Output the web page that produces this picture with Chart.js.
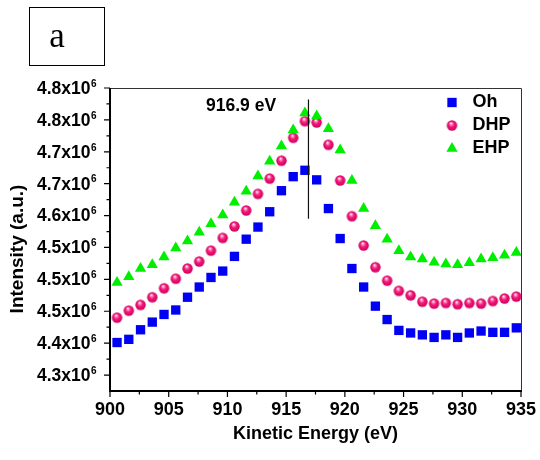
<!DOCTYPE html>
<html>
<head>
<meta charset="utf-8">
<script src="https://cdn.jsdelivr.net/npm/chart.js@4"></script>
<style>
  html, body { margin: 0; padding: 0; background: #fff; }
</style>
</head>
<body>
<canvas id="chart" width="540" height="460"></canvas>
<script>
// kinetic energy of each sample (eV)
const energy = [900.6, 901.6, 902.6, 903.6, 904.6, 905.6, 906.6, 907.6, 908.6, 909.6,
  910.6, 911.6, 912.6, 913.6, 914.6, 915.6, 916.6, 917.6, 918.6, 919.6,
  920.6, 921.6, 922.6, 923.6, 924.6, 925.6, 926.6, 927.6, 928.6, 929.6,
  930.6, 931.6, 932.6, 933.6, 934.6];

// intensities in units of 10^6
const oh = [4.351, 4.356, 4.371, 4.383, 4.395, 4.402, 4.422, 4.438, 4.453, 4.463,
  4.486, 4.513, 4.532, 4.556, 4.589, 4.611, 4.621, 4.606, 4.561, 4.514,
  4.467, 4.438, 4.408, 4.387, 4.370, 4.366, 4.363, 4.359, 4.363, 4.359,
  4.366, 4.369, 4.367, 4.367, 4.374];
const dhp = [4.390, 4.401, 4.410, 4.422, 4.436, 4.451, 4.467, 4.478, 4.495, 4.515,
  4.533, 4.558, 4.584, 4.608, 4.636, 4.672, 4.698, 4.696, 4.661, 4.605,
  4.549, 4.503, 4.469, 4.448, 4.432, 4.425, 4.415, 4.412, 4.413, 4.411,
  4.413, 4.412, 4.416, 4.420, 4.423];
const ehp = [4.445, 4.454, 4.467, 4.473, 4.485, 4.499, 4.510, 4.524, 4.537, 4.551,
  4.571, 4.588, 4.612, 4.635, 4.659, 4.684, 4.711, 4.706, 4.686, 4.653,
  4.605, 4.561, 4.534, 4.513, 4.495, 4.485, 4.482, 4.477, 4.474, 4.473,
  4.476, 4.482, 4.484, 4.488, 4.492];

// peak marker
const peakEnergy = 916.9;
const peakLineRange = [4.545, 4.732];
const peakLabel = '916.9 eV';

const xTicks = [900, 905, 910, 915, 920, 925, 930, 935];
const yTicks = [4.30, 4.35, 4.40, 4.45, 4.50, 4.55, 4.60, 4.65, 4.70, 4.75];
const yTickLabels = ['4.3', '4.4', '4.5', '4.5', '4.5', '4.6', '4.7', '4.7', '4.8', '4.8'];

const FONT = '"Liberation Sans", Arial, Helvetica, sans-serif';

function pts(ys) {
  return energy.map((x, i) => ({ x: x, y: ys[i] }));
}

// shaded pink ball used for the DHP markers
function makeSphere(r) {
  const c = document.createElement('canvas');
  const s = Math.ceil(r * 2 + 2);
  c.width = c.height = s;
  const g = c.getContext('2d');
  const cx = s / 2, cy = s / 2;
  const grad = g.createRadialGradient(cx - r * 0.2, cy - r * 0.45, r * 0.05, cx, cy, r);
  grad.addColorStop(0, '#ffffff');
  grad.addColorStop(0.22, '#ff7fb4');
  grad.addColorStop(0.5, '#f2187a');
  grad.addColorStop(1, '#d0005c');
  g.fillStyle = grad;
  g.beginPath();
  g.arc(cx, cy, r, 0, Math.PI * 2);
  g.fill();
  return c;
}
const sphere = makeSphere(5.2);

const series = [
  { label: 'Oh', data: oh, style: 'rect', radius: 6.6, color: '#0000f5' },
  { label: 'DHP', data: dhp, style: sphere, radius: 5.2, color: '#f2187a' },
  { label: 'EHP', data: ehp, style: 'triangle', radius: 6.5, color: '#00ee00' }
];

// frame, ticks, tick labels, legend and the text bits
const decor = {
  id: 'decor',
  afterDatasetsDraw(chart) {
    const ctx = chart.ctx;
    const xs = chart.scales.x, ys = chart.scales.y;
    const { left, right, top, bottom } = chart.chartArea;

    ctx.save();

    // box
    ctx.lineWidth = 1;
    ctx.strokeStyle = '#333';
    ctx.beginPath();
    ctx.moveTo(left, top + 0.5);
    ctx.lineTo(right + 0.5, top + 0.5);
    ctx.lineTo(right + 0.5, bottom);
    ctx.stroke();

    ctx.strokeStyle = '#000';
    ctx.lineWidth = 2;
    ctx.beginPath();
    ctx.moveTo(left, top);
    ctx.lineTo(left, bottom);
    ctx.lineTo(right + 1, bottom);
    ctx.stroke();

    // y ticks
    ctx.lineWidth = 1.2;
    ctx.beginPath();
    yTicks.forEach((v, i) => {
      const py = ys.getPixelForValue(v);
      ctx.moveTo(left - 6, py);
      ctx.lineTo(left, py);
      if (i < yTicks.length - 1) {
        const pm = ys.getPixelForValue((v + yTicks[i + 1]) / 2);
        ctx.moveTo(left - 3.5, pm);
        ctx.lineTo(left, pm);
      }
    });
    // x ticks
    xTicks.forEach((v, i) => {
      const px = xs.getPixelForValue(v);
      ctx.moveTo(px, bottom);
      ctx.lineTo(px, bottom + 6);
      if (i < xTicks.length - 1) {
        const pm = xs.getPixelForValue((v + xTicks[i + 1]) / 2);
        ctx.moveTo(pm, bottom);
        ctx.lineTo(pm, bottom + 3.5);
      }
    });
    ctx.stroke();

    ctx.fillStyle = '#000';

    // y tick labels with exponent
    yTicks.forEach((v, i) => {
      const py = ys.getPixelForValue(v);
      ctx.font = 'bold 17.5px ' + FONT;
      ctx.textAlign = 'right';
      ctx.textBaseline = 'middle';
      ctx.fillText(yTickLabels[i] + 'x10', 90.5, py + 1);
      ctx.font = 'bold 10px ' + FONT;
      ctx.textAlign = 'left';
      ctx.fillText('6', 91, py - 4);
    });

    // x tick labels
    ctx.font = 'bold 18px ' + FONT;
    ctx.textAlign = 'center';
    ctx.textBaseline = 'middle';
    xTicks.forEach(v => {
      ctx.fillText(String(v), xs.getPixelForValue(v), bottom + 19.5);
    });

    // y axis title
    ctx.save();
    ctx.translate(18, 249);
    ctx.rotate(-Math.PI / 2);
    ctx.font = 'bold 19px ' + FONT;
    ctx.textAlign = 'center';
    ctx.textBaseline = 'middle';
    ctx.fillText('Intensity (a.u.)', 0, 0);
    ctx.restore();

    // peak label
    ctx.font = 'bold 17.5px ' + FONT;
    ctx.textAlign = 'left';
    ctx.textBaseline = 'middle';
    ctx.fillText(peakLabel, 206, 106);

    // legend
    series.forEach((s, i) => {
      const ly = 102.5 + i * 23;
      ctx.fillStyle = s.color;
      Chart.helpers.drawPoint(ctx, {
        pointStyle: s.style, radius: s.radius, rotation: 0, borderWidth: 0
      }, 452, ly);
      ctx.fillStyle = '#000';
      ctx.font = 'bold 18px ' + FONT;
      ctx.textAlign = 'left';
      ctx.textBaseline = 'middle';
      ctx.fillText(s.label, 472.5, ly);
    });

    // panel tag
    ctx.lineWidth = 1;
    ctx.strokeStyle = '#000';
    ctx.strokeRect(29.5, 7.5, 75, 58);
    ctx.font = '35px "Liberation Serif", "Times New Roman", serif';
    ctx.textAlign = 'center';
    ctx.textBaseline = 'alphabetic';
    ctx.fillText('a', 57, 46.5);

    ctx.restore();
  }
};

const datasets = [
  {
    label: 'peak',
    data: [{ x: peakEnergy, y: peakLineRange[0] }, { x: peakEnergy, y: peakLineRange[1] }],
    showLine: true,
    borderColor: '#111',
    borderWidth: 1.2,
    pointRadius: 0
  }
];
// EHP drawn above DHP, DHP above Oh
series.slice().reverse().forEach(s => {
  datasets.push({
    label: s.label,
    data: pts(s.data),
    pointStyle: s.style,
    pointRadius: s.radius,
    pointBackgroundColor: s.color,
    pointBorderWidth: 0,
    showLine: false
  });
});

new Chart(document.getElementById('chart'), {
  type: 'scatter',
  data: { datasets: datasets },
  options: {
    responsive: false,
    animation: false,
    events: [],
    layout: { padding: { left: 0, right: 19, top: 88, bottom: 0 } },
    plugins: {
      legend: { display: false },
      tooltip: { enabled: false }
    },
    scales: {
      x: {
        type: 'linear',
        min: 900,
        max: 935,
        grid: { display: false },
        border: { display: false },
        ticks: { display: false },
        title: {
          display: true,
          text: 'Kinetic Energy (eV)',
          color: '#000',
          font: { family: FONT, size: 18, weight: 'bold' },
          padding: { top: 0, bottom: 15 }
        },
        afterFit(scale) { scale.height = 69; }
      },
      y: {
        type: 'linear',
        min: 4.275,
        max: 4.75,
        grid: { display: false },
        border: { display: false },
        ticks: { display: false },
        afterFit(scale) { scale.width = 110; }
      }
    }
  },
  plugins: [decor]
});
</script>
</body>
</html>
